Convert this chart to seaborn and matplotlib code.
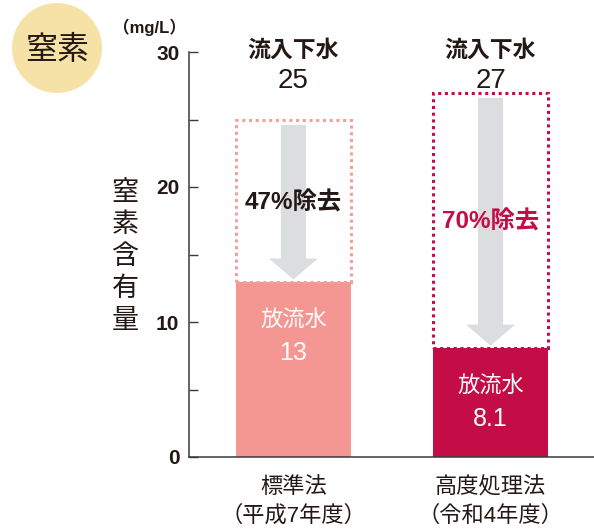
import matplotlib
matplotlib.use("Agg")
import matplotlib.pyplot as plt
from matplotlib.patches import Rectangle, Polygon, Circle
from matplotlib.ticker import MultipleLocator
import seaborn as sns
import pandas as pd

# ---- data ----
methods = ["標準法", "高度処理法"]
periods = ["（平成7年度）", "（令和4年度）"]
inflow = [25, 27]            # 流入下水 (mg/L)
effluent = [13, 8.1]         # 放流水 (mg/L)
removal = ["47%除去", "70%除去"]
y_ticks = [0, 10, 20, 30]

bar_colors = ["#F49692", "#C40C46"]
box_colors = ["#F59F9B", "#C40C46"]
removal_colors = ["#231815", "#C40C46"]
ink = "#231815"
arrow_gray = "#DCDDDF"

sns.set_theme(style="white")
FONT = ["Liberation Sans", "Noto Sans CJK JP", "DejaVu Sans"]
plt.rcParams["font.family"] = FONT

W, H = 594, 532
fig = plt.figure(figsize=(W / 100, H / 100), dpi=100)

# pixel-space overlay for the badge and free labels
ov = fig.add_axes([0, 0, 1, 1], zorder=0)
ov.set_xlim(0, W)
ov.set_ylim(H, 0)
ov.axis("off")

# main chart axes
left_px, right_px, top_px, bottom_px = 189, 594, 52, 457
ax = fig.add_axes([left_px / W, 1 - bottom_px / H,
                   (right_px - left_px) / W, (bottom_px - top_px) / H], zorder=1)
ax.patch.set_alpha(0)

df = pd.DataFrame({"method": methods, "effluent": effluent})
bar_w = 0.584
sns.barplot(data=df, x="method", y="effluent", hue="method",
            palette=bar_colors, width=bar_w, legend=False, ax=ax,
            saturation=1, linewidth=0, zorder=2)

ax.set_ylim(0, 30)
ax.set_xlim(-0.530, 1.525)
ax.set_xlabel("")
ax.set_ylabel("")

# axes styling
for s in ["top", "right"]:
    ax.spines[s].set_visible(False)
for s in ["left", "bottom"]:
    ax.spines[s].set_color("#3a3a3a")
    ax.spines[s].set_linewidth(1.1)
ax.set_yticks(y_ticks)
ax.yaxis.set_minor_locator(MultipleLocator(5))
ax.tick_params(axis="y", which="both", direction="in", length=6.5, width=1.0,
               color="#3a3a3a", left=True)
ax.tick_params(axis="y", which="major", labelsize=15, labelcolor=ink, pad=7)
for lab in ax.get_yticklabels():
    lab.set_fontweight("bold")
ax.tick_params(axis="x", length=0, pad=0)
ax.set_xticks(range(len(methods)))
ax.set_xticklabels([])

# dotted inflow boxes, removal arrows and labels
px_per_x = 197.0
px_per_y = (bottom_px - top_px) / 30.0
shaft_hw = 12.5 / px_per_x
head_hw = 24.5 / px_per_x
head_h = 21 / px_per_y
for i in range(len(methods)):
    x0 = i - bar_w / 2
    ax.add_patch(Rectangle((x0, effluent[i]), bar_w, inflow[i] - effluent[i],
                           fill=False, edgecolor=box_colors[i], linewidth=2.2,
                           linestyle=(0, (1, 1.2)), zorder=3))
    top = inflow[i] - 0.4
    tip = effluent[i] + 0.15
    neck = tip + head_h
    ax.add_patch(Polygon([(i - shaft_hw, top), (i + shaft_hw, top),
                          (i + shaft_hw, neck), (i + head_hw, neck),
                          (i, tip), (i - head_hw, neck),
                          (i - shaft_hw, neck)],
                         closed=True, facecolor=arrow_gray, edgecolor="none",
                         zorder=1.5))
    ax.text(i, 30.15, "流入下水", ha="center", va="center", fontsize=16.5,
            fontweight="bold", color=ink, clip_on=False, zorder=5)
    ax.text(i, 27.85, f"{inflow[i]:g}", ha="center", va="center", fontsize=20,
            color=ink, clip_on=False, zorder=5)
    ax.text(i, [18.8, 17.4][i], removal[i], ha="center", va="center",
            fontsize=17.5, fontweight="bold", color=removal_colors[i], zorder=5)
    ax.text(i, effluent[i] - 2.9, "放流水", ha="center", va="center",
            fontsize=16, color="white", zorder=5)
    ax.text(i, effluent[i] - 5.3, f"{effluent[i]:g}", ha="center", va="center",
            fontsize=18, color="white", zorder=5)
    ax.text(i, -2.25, methods[i], ha="center", va="center", fontsize=16,
            color=ink, clip_on=False)
    ax.text(i, -4.4, periods[i], ha="center", va="center", fontsize=16,
            color=ink, clip_on=False)

# badge
ov.add_patch(Circle((57, 48), 45, facecolor="#F6E2A6", edgecolor="none"))
ov.text(57, 51, "窒素", ha="center", va="center", fontsize=23, color=ink)

# unit and vertical axis title
ov.text(150, 27, "（mg/L）", ha="center", va="center", fontsize=12,
        fontweight="bold", color=ink)
title = "窒素含有量"
for k, ch in enumerate(title):
    ov.text(125, 193.5 + k * 31.9, ch, ha="center", va="center",
            fontsize=19.5, color=ink)

fig.savefig("out.png", dpi=100)
